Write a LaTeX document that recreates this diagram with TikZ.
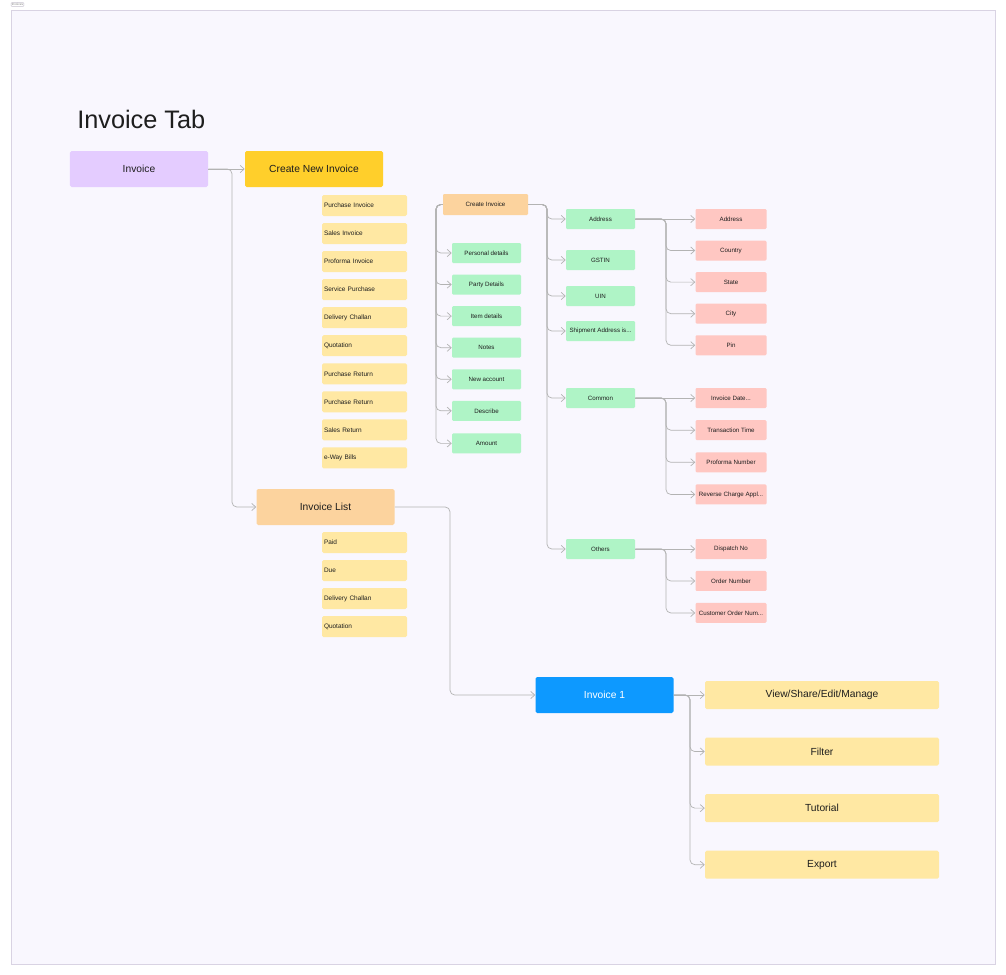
\documentclass[tikz,border=0pt]{standalone}
\usepackage{fontspec}
\setmainfont{Liberation Sans}
\definecolor{lilac}{HTML}{E4CCFF}
\definecolor{sunflower}{HTML}{FFCF2B}
\definecolor{paleyellow}{HTML}{FFE8A3}
\definecolor{peach}{HTML}{FCD39E}
\definecolor{mint}{HTML}{AFF4C6}
\definecolor{blush}{HTML}{FFC7C2}
\definecolor{skyblue}{HTML}{0D99FF}
\definecolor{wirecol}{HTML}{B3B3B3}
\definecolor{canvas}{HTML}{F9F7FE}
\definecolor{framecol}{HTML}{D9D3E3}
\definecolor{inkcol}{HTML}{1E1E1E}
\usetikzlibrary{positioning, arrows.meta}

\begin{document}
\begin{tikzpicture}[
  x=0.25mm, y=-0.25mm,
  bigbox/.style={minimum width=34.5mm, minimum height=9mm, inner sep=0pt,
    rounded corners=0.4mm, text=inkcol, font=\fontsize{7.3}{9}\selectfont},
  listbox/.style={fill=paleyellow, rounded corners=0.4mm, text width=20.25mm,
    minimum height=5.25mm, inner xsep=0.5mm, inner ysep=0pt, align=left,
    text=inkcol, font=\fontsize{4.6}{5.5}\selectfont},
  greenbox/.style={fill=mint, rounded corners=0.3mm, minimum width=17.25mm,
    minimum height=5mm, inner sep=0pt, text=inkcol, font=\fontsize{4.4}{5}\selectfont},
  pinkbox/.style={fill=blush, rounded corners=0.3mm, minimum width=17.75mm,
    minimum height=5mm, inner sep=0pt, text=inkcol, font=\fontsize{4.4}{5}\selectfont},
  optbox/.style={fill=paleyellow, rounded corners=0.4mm, minimum width=58.5mm,
    minimum height=7mm, inner sep=0pt, text=inkcol, font=\fontsize{7.3}{9}\selectfont},
  link/.style={draw=wirecol, line width=0.5pt, rounded corners=1.2mm,
    -{Straight Barb[length=1mm, width=1.8mm]}},
]
  % canvas and frame
  \useasboundingbox (0,0) rectangle (1006,975);
  \fill[white] (0,0) rectangle (1006,975);
  \draw[framecol, fill=canvas, line width=0.6pt] (11,10) rectangle (995,964);
  \node[draw=framecol!80!gray, fill=white, rounded corners=0.2mm, inner sep=0.5pt,
    text=gray, font=\fontsize{2.2}{2.2}\selectfont] (tag) at (17.5,4.5) {Invoices};
  \node[anchor=base west, inner sep=0pt, text=inkcol,
    font=\fontsize{18}{20}\selectfont] (title) at (77,128) {Invoice Tab};

  % main boxes
  \node[bigbox, fill=lilac] (inv) at (139,169) {Invoice};
  \node[bigbox, fill=sunflower] (newinv) at (314,169) {Create New Invoice};
  \node[bigbox, fill=peach] (invlist) at (325.5,507) {Invoice List};
  \node[bigbox, fill=skyblue, text=white] (inv1) at (604.5,695) {Invoice 1};

  % invoice types
  \node[listbox] (t1) at (364.5,205.5) {Purchase Invoice};
  \node[listbox, below=1.62mm of t1] (t2) {Sales Invoice};
  \node[listbox, below=1.62mm of t2] (t3) {Proforma Invoice};
  \node[listbox, below=1.62mm of t3] (t4) {Service Purchase};
  \node[listbox, below=1.62mm of t4] (t5) {Delivery Challan};
  \node[listbox, below=1.62mm of t5] (t6) {Quotation};
  \node[listbox, below=1.62mm of t6] (t7) {Purchase Return};
  \node[listbox, below=1.62mm of t7] (t8) {Purchase Return};
  \node[listbox, below=1.62mm of t8] (t9) {Sales Return};
  \node[listbox, below=1.62mm of t9] (t10) {e-Way Bills};

  % list filters
  \node[listbox] (l1) at (364.5,542.5) {Paid};
  \node[listbox, below=1.62mm of l1] (l2) {Due};
  \node[listbox, below=1.62mm of l2] (l3) {Delivery Challan};
  \node[listbox, below=1.62mm of l3] (l4) {Quotation};

  % invoice actions
  \node[optbox] (o1) at (822,695) {View/Share/Edit/Manage};
  \node[optbox, below=7mm of o1] (o2) {Filter};
  \node[optbox, below=7mm of o2] (o3) {Tutorial};
  \node[optbox, below=7mm of o3] (o4) {Export};

  % create invoice form
  \node[greenbox, fill=peach, minimum width=21.25mm, minimum height=5.25mm]
    (cinv) at (485.5,204.5) {Create Invoice};
  \node[greenbox] (g1) at (486.5,253) {Personal details};
  \node[greenbox, below=2.75mm of g1] (g2) {Party Details};
  \node[greenbox, below=2.75mm of g2] (g3) {Item details};
  \node[greenbox, below=2.75mm of g3] (g4) {Notes};
  \node[greenbox, below=2.75mm of g4] (g5) {New account};
  \node[greenbox, below=2.75mm of g5] (g6) {Describe};
  \node[greenbox, below=3mm of g6] (g7) {Amount};

  \node[greenbox] (addr) at (600.5,219) {Address};
  \node[greenbox] (gstin) at (600.5,260) {GSTIN};
  \node[greenbox] (uin) at (600.5,296) {UIN};
  \node[greenbox] (ship) at (600.5,331) {Shipment Address is...};
  \node[greenbox] (common) at (600.5,398) {Common};
  \node[greenbox] (others) at (600.5,549) {Others};

  \node[pinkbox] (a1) at (731,219) {Address};
  \node[pinkbox, below=2.75mm of a1] (a2) {Country};
  \node[pinkbox, below=2.75mm of a2] (a3) {State};
  \node[pinkbox, below=2.75mm of a3] (a4) {City};
  \node[pinkbox, below=2.75mm of a4] (a5) {Pin};

  \node[pinkbox] (c1) at (731,398) {Invoice Date...};
  \node[pinkbox, below=2.9mm of c1] (c2) {Transaction Time};
  \node[pinkbox, below=2.9mm of c2] (c3) {Proforma Number};
  \node[pinkbox, below=2.9mm of c3] (c4) {Reverse Charge Appl...};

  \node[pinkbox] (r1) at (731,549) {Dispatch No};
  \node[pinkbox, below=2.85mm of r1] (r2) {Order Number};
  \node[pinkbox, below=2.85mm of r2] (r3) {Customer Order Num...};

  % trunks
  \coordinate (j1) at (232,169);
  \coordinate (j2) at (450,507);
  \coordinate (j3) at (690,695);
  \coordinate (j4) at (436,204.5);
  \coordinate (j5) at (547,204.5);
  \coordinate (j6) at (666,219);
  \coordinate (j7) at (666,398);
  \coordinate (j8) at (666,549);

  % connectors
  \draw[link] (inv.east) -- (newinv.west);
  \draw[link] (inv.east) -- (j1) |- (invlist.west);
  \draw[link] (invlist.east) -- (j2) |- (inv1.west);
  \draw[link] (inv1.east) -- (o1.west);
  \draw[link] (inv1.east) -- (j3) |- (o2.west);
  \draw[link] (inv1.east) -- (j3) |- (o3.west);
  \draw[link] (inv1.east) -- (j3) |- (o4.west);

  \draw[link] (cinv.west) -- (j4) |- (g1.west);
  \draw[link] (cinv.west) -- (j4) |- (g2.west);
  \draw[link] (cinv.west) -- (j4) |- (g3.west);
  \draw[link] (cinv.west) -- (j4) |- (g4.west);
  \draw[link] (cinv.west) -- (j4) |- (g5.west);
  \draw[link] (cinv.west) -- (j4) |- (g6.west);
  \draw[link] (cinv.west) -- (j4) |- (g7.west);

  \draw[link] (cinv.east) -- (j5) |- (addr.west);
  \draw[link] (cinv.east) -- (j5) |- (gstin.west);
  \draw[link] (cinv.east) -- (j5) |- (uin.west);
  \draw[link] (cinv.east) -- (j5) |- (ship.west);
  \draw[link] (cinv.east) -- (j5) |- (common.west);
  \draw[link] (cinv.east) -- (j5) |- (others.west);

  \draw[link] (addr.east) -- (a1.west);
  \draw[link] (addr.east) -- (j6) |- (a2.west);
  \draw[link] (addr.east) -- (j6) |- (a3.west);
  \draw[link] (addr.east) -- (j6) |- (a4.west);
  \draw[link] (addr.east) -- (j6) |- (a5.west);

  \draw[link] (common.east) -- (c1.west);
  \draw[link] (common.east) -- (j7) |- (c2.west);
  \draw[link] (common.east) -- (j7) |- (c3.west);
  \draw[link] (common.east) -- (j7) |- (c4.west);

  \draw[link] (others.east) -- (r1.west);
  \draw[link] (others.east) -- (j8) |- (r2.west);
  \draw[link] (others.east) -- (j8) |- (r3.west);
\end{tikzpicture}
\end{document}
